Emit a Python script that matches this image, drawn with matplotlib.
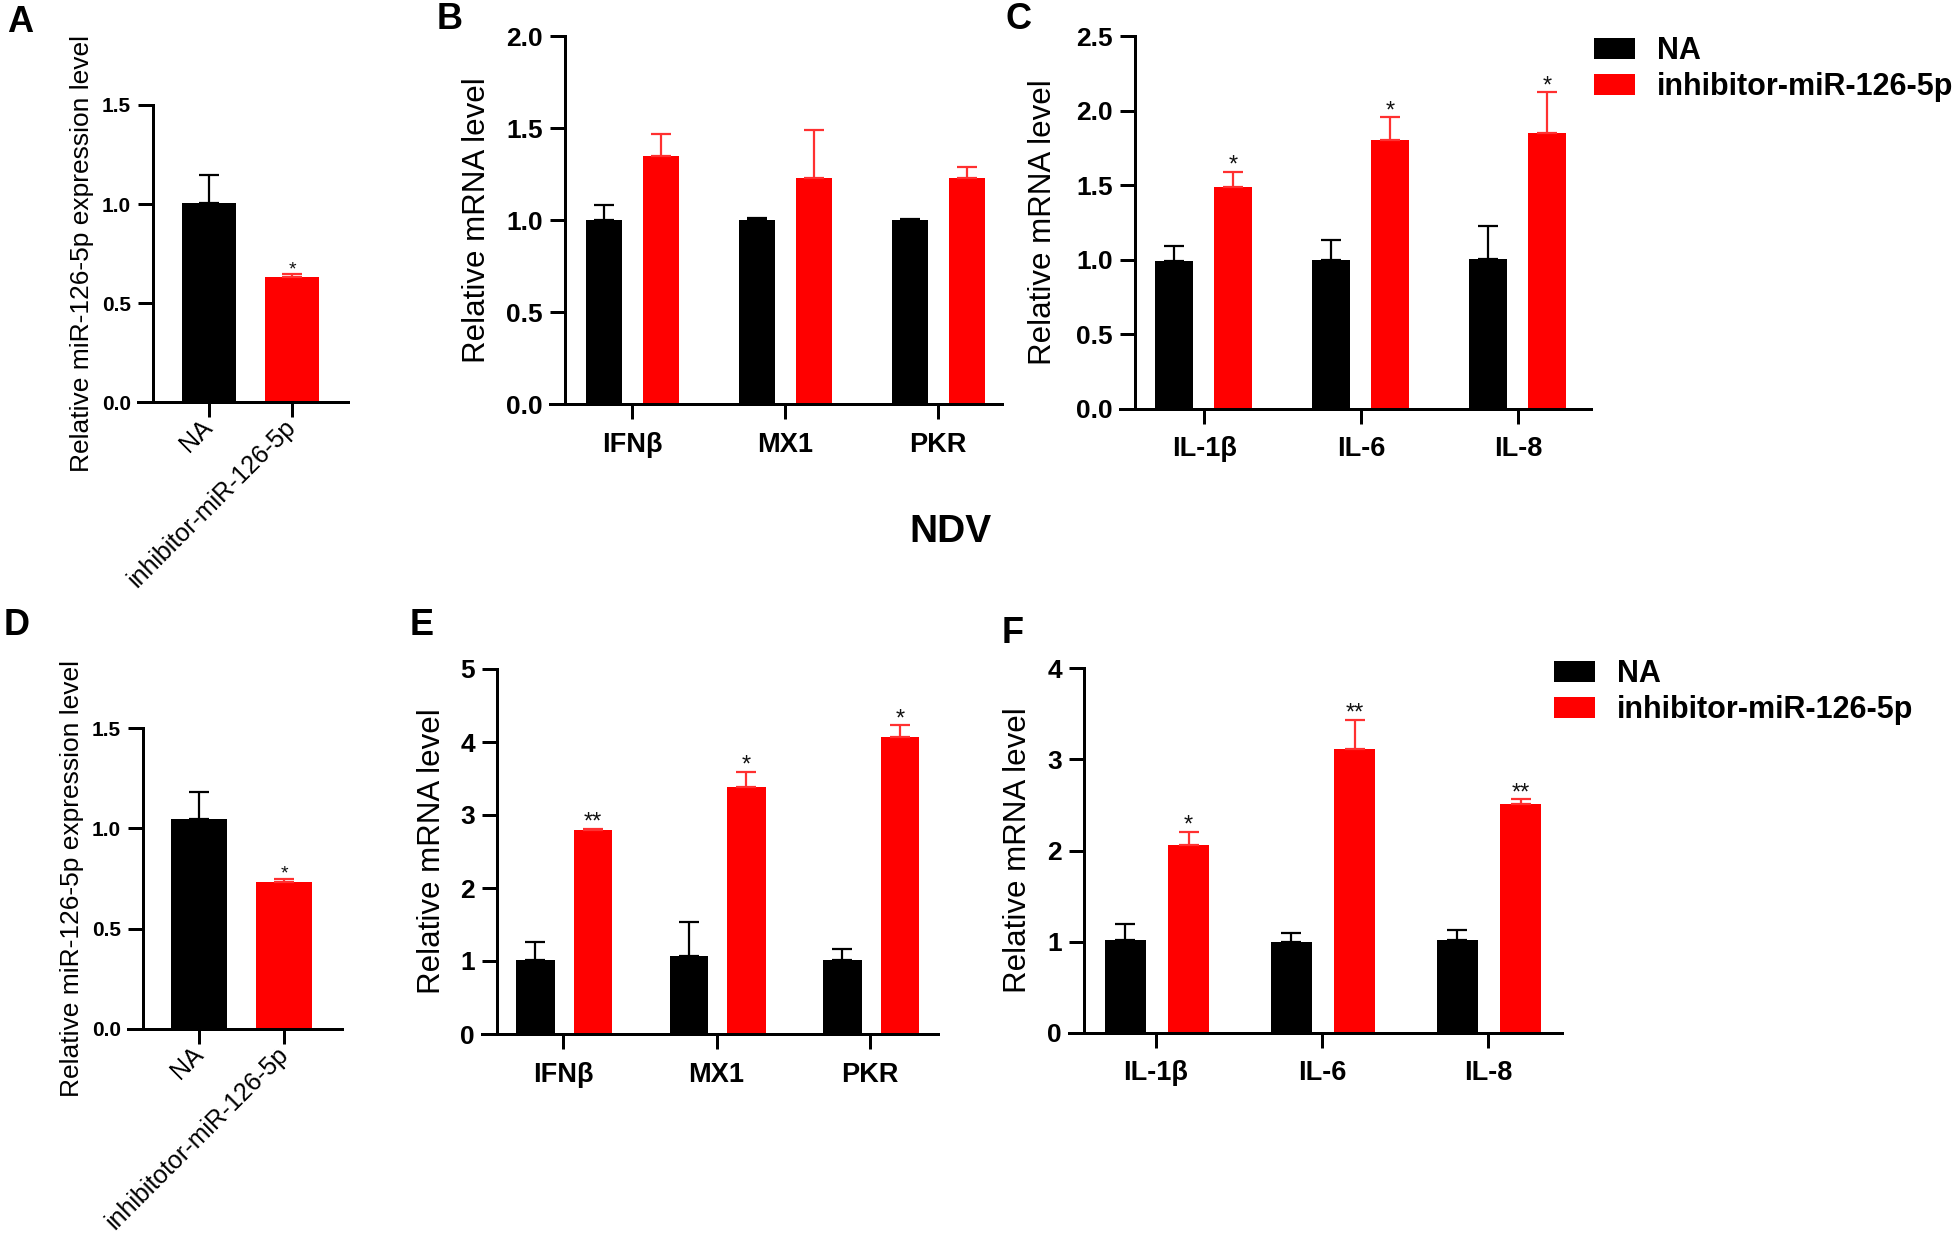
import matplotlib
matplotlib.use("Agg")
import matplotlib.pyplot as plt
import numpy as np

plt.rcParams['font.family'] = ['Liberation Sans', 'DejaVu Sans']

# ---------------- data ----------------
A_cats = ['NA', 'inhibitor-miR-126-5p']
A_vals = [1.004, 0.629]
A_err = [0.141, 0.017]
A_sig = ['', '*']

B_cats = ['IFNβ', 'MX1', 'PKR']
B_na = [1.0, 1.0, 1.0]
B_na_err = [0.08, 0.012, 0.005]
B_inh = [1.348, 1.23, 1.23]
B_inh_err = [0.12, 0.26, 0.06]
B_sig = ['', '', '']

C_cats = ['IL-1β', 'IL-6', 'IL-8']
C_na = [0.995, 1.0, 1.007]
C_na_err = [0.10, 0.134, 0.217]
C_inh = [1.49, 1.80, 1.853]
C_inh_err = [0.10, 0.155, 0.27]
C_sig = ['*', '*', '*']

D_cats = ['NA', 'inhibitotor-miR-126-5p']
D_vals = [1.047, 0.731]
D_err = [0.132, 0.018]
D_sig = ['', '*']

E_cats = ['IFNβ', 'MX1', 'PKR']
E_na = [1.009, 1.064, 1.009]
E_na_err = [0.247, 0.475, 0.155]
E_inh = [2.79, 3.39, 4.07]
E_inh_err = [0.02, 0.20, 0.16]
E_sig = ['**', '*', '*']

F_cats = ['IL-1β', 'IL-6', 'IL-8']
F_na = [1.014, 0.995, 1.014]
F_na_err = [0.178, 0.099, 0.116]
F_inh = [2.06, 3.11, 2.505]
F_inh_err = [0.146, 0.325, 0.055]
F_sig = ['*', '**', '**']

series_names = ['NA', 'inhibitor-miR-126-5p']

# ---------------- style ----------------
W, H = 1960, 1239
BLACK = '#000000'
RED = '#ff0000'
RED_ERR = '#ff3030'
LW = 2.16
TICKLEN = 10.8

fig = plt.figure(figsize=(W / 100, H / 100), dpi=100)


def axes_px(l, r, t, b):
    return fig.add_axes([l / W, 1 - b / H, (r - l) / W, (b - t) / H])


def style_axes(ax, xlim, ylim, yticks, yfmt, ytick_size, ytick_weight, ypad):
    ax.set_xlim(*xlim)
    ax.set_ylim(*ylim)
    for s in ('top', 'right'):
        ax.spines[s].set_visible(False)
    for s in ('left', 'bottom'):
        ax.spines[s].set_linewidth(LW)
    bbox = ax.get_position()
    ax_w_px = bbox.width * W
    units_per_px = (xlim[1] - xlim[0]) / ax_w_px
    ax.spines['bottom'].set_bounds(xlim[0] - 15 * units_per_px, xlim[1])
    ax.set_yticks(yticks)
    ax.set_yticklabels([yfmt.format(v) for v in yticks], fontsize=ytick_size,
                       fontweight=ytick_weight)
    ax.tick_params(axis='both', length=TICKLEN, width=LW, direction='out')
    ax.tick_params(axis='y', pad=ypad)


def stars(ax, xs, tops, labels, size=17):
    for x, t, s in zip(xs, tops, labels):
        if s:
            ax.annotate(s, (x, t), xytext=(0, 0), textcoords='offset points',
                        ha='center', va='baseline', fontsize=size, color='#111111')


def single_panel(ax, cats, vals, errs, sig, ylabel, ylabel_x):
    x = np.arange(len(cats))
    colors = [BLACK, RED]
    ecolors = [BLACK, RED_ERR]
    for i in range(len(cats)):
        ax.bar(x[i], vals[i], width=0.66, color=colors[i],
               yerr=[[0], [errs[i]]],
               error_kw=dict(ecolor=ecolors[i], elinewidth=1.6, capsize=7.5, capthick=1.6))
    tops = [v + e for v, e in zip(vals, errs)]
    stars(ax, x, tops, sig, size=14)
    ax.set_xticks(x)
    ax.set_xticklabels(cats, rotation=45, ha='right', va='center',
                       rotation_mode='anchor', fontsize=18)
    ax.tick_params(axis='x', pad=5)
    ax.set_ylabel(ylabel, fontsize=19, ha='center', va='center')
    ax.yaxis.set_label_coords(ylabel_x, 0.5)


def group_panel(ax, cats, na, na_err, inh, inh_err, sig, off_na, off_inh, width, ylabel_x):
    x = np.arange(len(cats))
    z = np.zeros(len(cats))
    b1 = ax.bar(x + off_na, na, width=width, color=BLACK,
                yerr=[z, na_err],
                error_kw=dict(ecolor=BLACK, elinewidth=1.6, capsize=7.5, capthick=1.6))
    b2 = ax.bar(x + off_inh, inh, width=width, color=RED,
                yerr=[z, inh_err],
                error_kw=dict(ecolor=RED_ERR, elinewidth=1.6, capsize=7.5, capthick=1.6))
    tops = [v + e for v, e in zip(inh, inh_err)]
    stars(ax, x + off_inh, tops, sig)
    ax.set_xticks(x)
    ax.set_xticklabels(cats, fontsize=19.5, fontweight='bold')
    ax.tick_params(axis='x', pad=9)
    ax.set_ylabel('Relative mRNA level', fontsize=22.5, ha='center', va='center')
    ax.yaxis.set_label_coords(ylabel_x, 0.5)
    return b1, b2


def ylab_frac(center_px, left_px, right_px):
    return (center_px - left_px) / (right_px - left_px)


def add_legend(ax, handles, x_px, top_px):
    ax.legend(handles, series_names, loc='upper left',
              bbox_to_anchor=(x_px / W, 1 - top_px / H), bbox_transform=fig.transFigure,
              frameon=False, borderpad=0, borderaxespad=0, handlelength=1.35,
              handleheight=0.7, handletextpad=0.72, labelspacing=0.2,
              prop=dict(size=22, weight='bold'))


# ---------------- Panel A ----------------
axA = axes_px(153, 348, 105, 402)
style_axes(axA, (-0.675, 1.675), (0, 1.5), [0, 0.5, 1.0, 1.5], '{:.1f}', 15, 'bold', 5)
single_panel(axA, A_cats, A_vals, A_err, A_sig,
             'Relative miR-126-5p expression level', ylab_frac(82, 153, 348))

# ---------------- Panel B ----------------
axB = axes_px(565, 1002, 36, 404)
style_axes(axB, (-0.438, 2.418), (0, 2.0), [0, 0.5, 1.0, 1.5, 2.0], '{:.1f}', 19, 'bold', 5)
group_panel(axB, B_cats, B_na, B_na_err, B_inh, B_inh_err, B_sig,
            -0.183, 0.19, 0.24, ylab_frac(477, 565, 1002))

# ---------------- Panel C ----------------
axC = axes_px(1135, 1591, 36, 409)
style_axes(axC, (-0.44, 2.465), (0, 2.5), [0, 0.5, 1.0, 1.5, 2.0, 2.5], '{:.1f}', 19, 'bold', 5)
bC1, bC2 = group_panel(axC, C_cats, C_na, C_na_err, C_inh, C_inh_err, C_sig,
                       -0.19, 0.185, 0.245, ylab_frac(1043, 1135, 1591))
add_legend(axC, [bC1, bC2], 1594, 36)

# ---------------- Panel D ----------------
axD = axes_px(143, 342, 728, 1029)
style_axes(axD, (-0.66, 1.68), (0, 1.5), [0, 0.5, 1.0, 1.5], '{:.1f}', 15, 'bold', 5)
single_panel(axD, D_cats, D_vals, D_err, D_sig,
             'Relative miR-126-5p expression level', ylab_frac(72, 143, 342))

# ---------------- Panel E ----------------
axE = axes_px(497, 938, 669, 1034)
style_axes(axE, (-0.43, 2.443), (0, 5), [0, 1, 2, 3, 4, 5], '{:d}', 19, 'bold', 5)
group_panel(axE, E_cats, E_na, E_na_err, E_inh, E_inh_err, E_sig,
            -0.18, 0.195, 0.25, ylab_frac(432, 497, 938))

# ---------------- Panel F ----------------
axF = axes_px(1084, 1562, 668, 1033)
style_axes(axF, (-0.434, 2.446), (0, 4), [0, 1, 2, 3, 4], '{:d}', 19, 'bold', 5)
bF1, bF2 = group_panel(axF, F_cats, F_na, F_na_err, F_inh, F_inh_err, F_sig,
                       -0.184, 0.196, 0.247, ylab_frac(1018, 1084, 1562))
add_legend(axF, [bF1, bF2], 1554, 659)

# ---------------- panel letters & title ----------------
letters = [('A', 7, 5), ('B', 437, 2), ('C', 1005, 2),
           ('D', 4, 608), ('E', 410, 608), ('F', 1002, 616)]
for lab, x, y in letters:
    fig.text(x / W, 1 - y / H, lab, ha='left', va='top', fontsize=26, fontweight='bold')

fig.text(950 / W, 1 - 532 / H, 'NDV', ha='center', va='center', fontsize=28,
         fontweight='bold')

fig.savefig('out.png', dpi=100)
